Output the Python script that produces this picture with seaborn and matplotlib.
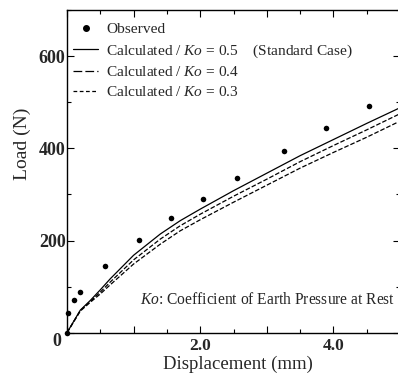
import matplotlib
matplotlib.use("Agg")
import matplotlib.pyplot as plt
import numpy as np
import pandas as pd
import seaborn as sns
from matplotlib.lines import Line2D
from matplotlib.ticker import MultipleLocator

# observed load-displacement points
obs_disp = [0.0, 0.02, 0.10, 0.20, 0.57, 1.08, 1.56, 2.04, 2.55, 3.26, 3.89, 4.53]
obs_load = [0, 42, 70, 89, 145, 202, 249, 291, 336, 394, 443, 492]

# calculated curves
calc_disp = [0.0, 0.2, 0.35, 0.5, 0.65, 1.0, 1.4, 1.7, 2.0, 2.5, 3.0, 3.5, 4.0, 4.5, 5.0]
calc_k05 = [0, 49, 70, 93, 117, 168, 214, 243, 268, 308, 346, 384, 419, 454, 488]
calc_k04 = [0, 48, 68, 88, 110, 158, 203, 232, 257, 296, 333, 371, 406, 440, 475]
calc_k03 = [0, 47, 66, 84, 104, 149, 192, 221, 245, 283, 320, 357, 391, 424, 459]

k0_values = ["0.5", "0.4", "0.3"]

sns.set_theme(style="ticks")
plt.rcParams["font.family"] = ["Liberation Serif", "DejaVu Serif"]
plt.rcParams["mathtext.fontset"] = "custom"
plt.rcParams["mathtext.it"] = "Liberation Serif:italic"
plt.rcParams["mathtext.rm"] = "Liberation Serif"

fig = plt.figure(figsize=(3.98, 3.75), dpi=100)
ax = fig.add_axes([67 / 398, 0.1128, 333 / 398, 0.8605])

calc = pd.DataFrame({
    "disp": calc_disp * 3,
    "load": calc_k05 + calc_k04 + calc_k03,
    "k0": [k for k in k0_values for _ in calc_disp],
})
styles = {"0.5": (None, "-"), "0.4": ((7, 2.5), "--"), "0.3": ((3, 2), "--")}
handles = [Line2D([], [], marker="o", color="black", linestyle="none", markersize=4)]
labels = ["Observed"]
for k in k0_values:
    dashes, ls = styles[k]
    line_kw = {"dashes": dashes} if dashes else {}
    sns.lineplot(data=calc[calc["k0"] == k], x="disp", y="load", color="black",
                 linewidth=0.9, linestyle=ls, ax=ax, **line_kw)
    h = Line2D([], [], color="black", linewidth=0.9, linestyle=ls, **line_kw)
    handles.append(h)
    lab = f"Calculated / $\\mathit{{Ko}}$ = {k}"
    if k == "0.5":
        lab += "    (Standard Case)"
    labels.append(lab)

sns.scatterplot(x=obs_disp, y=obs_load, color="black", s=16, edgecolor="black",
                linewidth=0, ax=ax, zorder=5, clip_on=False)

ax.set_xlim(0, 5)
ax.set_ylim(0, 700)
ax.xaxis.set_major_locator(MultipleLocator(1.0))
ax.xaxis.set_minor_locator(MultipleLocator(0.5))
ax.yaxis.set_major_locator(MultipleLocator(200))
ax.yaxis.set_minor_locator(MultipleLocator(100))
ax.set_xticks([0, 1, 2, 3, 4, 5])
ax.set_xticklabels(["", "", "2.0", "", "4.0", ""])
ax.set_yticks([0, 200, 400, 600])
ax.set_yticklabels(["", "200", "400", "600"])
ax.tick_params(which="both", direction="in", top=True, right=True,
               labelsize=13, width=0.8, color="black")
ax.tick_params(which="major", length=5)
ax.tick_params(which="minor", length=3)
ax.tick_params(axis="x", which="major", pad=4.0, labelsize=12.5)
ax.tick_params(axis="y", which="major", pad=1.0)
for lbl in ax.get_xticklabels() + ax.get_yticklabels():
    lbl.set_fontweight("bold")
for sp in ax.spines.values():
    sp.set_linewidth(1.0)
    sp.set_color("black")

ax.annotate("0", xy=(0, 0), xytext=(-7.5, -6.5), textcoords="offset points",
            ha="center", va="center", fontsize=13, fontweight="bold")

ax.set_xlabel("Displacement (mm)", fontsize=13.5)
ax.set_ylabel("Load (N)", fontsize=14)
ax.xaxis.set_label_coords(0.512, -0.072)
ax.yaxis.set_label_coords(-0.108, 0.584)

leg = ax.legend(handles, labels, loc="upper left", frameon=False, fontsize=11.1,
                handlelength=1.6, handletextpad=0.55, labelspacing=0.38,
                borderaxespad=0.1, borderpad=0.3, bbox_to_anchor=(0.0, 0.98))

ax.text(0.985, 0.101, "$\\mathit{Ko}$: Coefficient of Earth Pressure at Rest",
        transform=ax.transAxes, ha="right", va="center", fontsize=11.2)

fig.savefig("out.png", dpi=100)
